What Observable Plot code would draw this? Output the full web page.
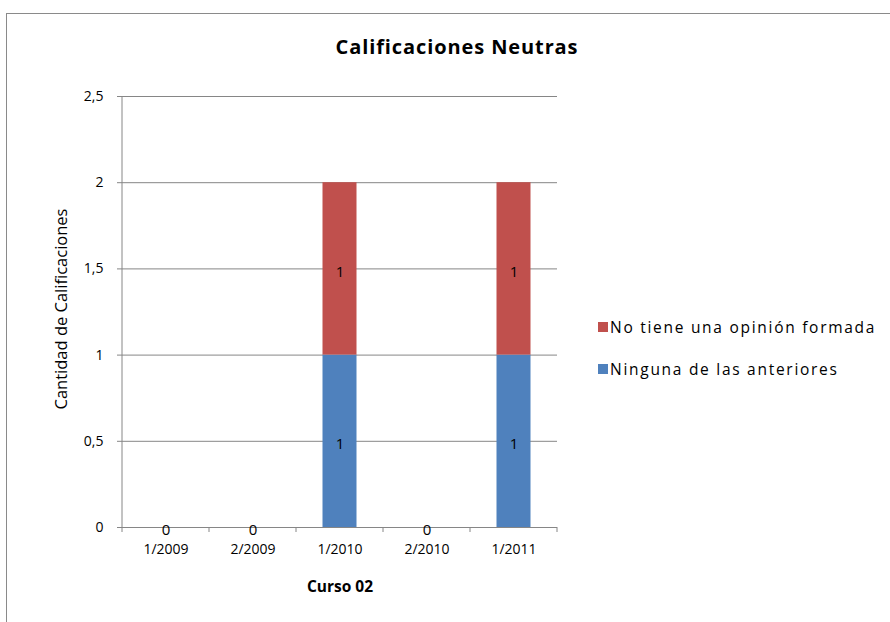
<!DOCTYPE html>
<html><head><meta charset="utf-8">
<script src="https://cdn.jsdelivr.net/npm/d3@7"></script>
<script src="https://cdn.jsdelivr.net/npm/@observablehq/plot@0.6"></script>
<style>
body{margin:0;background:#fff;font-family:"Open Sans",sans-serif;}
#wrap{position:relative;width:890px;height:622px;overflow:hidden;background:#fff;}
#frame{position:absolute;left:6px;top:13px;width:1000px;height:1000px;border:1px solid #8a8a8a;box-sizing:border-box;}
#chart{position:absolute;left:0;top:0;}
#title{position:absolute;top:33px;left:0;width:914px;text-align:center;font-weight:bold;font-size:20px;letter-spacing:0.9px;color:#000;line-height:28px;}
.leg{position:absolute;left:598px;font-size:15.5px;letter-spacing:1.72px;color:#000;white-space:nowrap;display:flex;align-items:center;line-height:20px;}
.sw{display:inline-block;width:10px;height:10px;margin-right:2px;}
</style></head>
<body>
<div id="wrap">
<div id="frame"></div>
<div id="chart"></div>
<div id="title"></div>
<div id="legend"></div>
</div>
<script>
const titleText = "Calificaciones Neutras";
const xLabel = "Curso 02";
const yLabel = "Cantidad de Calificaciones";
const categories = ["1/2009","2/2009","1/2010","2/2010","1/2011"];
const series = ["Ninguna de las anteriores","No tiene una opinión formada"];
const ninguna = [0,0,1,0,1];
const noTiene = [0,0,1,0,1];
const colors = ["#4F81BD","#C0504D"];
const yTicks = [0,0.5,1,1.5,2,2.5];
const yTickLabels = ["0","0,5","1","1,5","2","2,5"];

const data = categories.flatMap((c,i)=>[
  {cat:c, serie:series[0], value:ninguna[i]},
  {cat:c, serie:series[1], value:noTiene[i]}
]);

const grey = "#868686";

function axisLines(index, scales, values, dims) {
  const x = scales.x, y = scales.y;
  const g = d3.create("svg:g").attr("stroke", grey).attr("stroke-width", 1);
  const y0 = y(0), yTop = y(yTicks[yTicks.length-1]);
  const bounds = categories.map(c => x(c)).concat([dims.width - dims.marginRight]);
  for (const b of bounds) {
    g.append("line").attr("x1", b).attr("x2", b).attr("y1", y0).attr("y2", y0 + 5);
  }
  g.append("line").attr("x1", dims.marginLeft).attr("x2", dims.marginLeft).attr("y1", yTop).attr("y2", y0);
  return g.node();
}

const plot = Plot.plot({
  width: 890, height: 622,
  marginLeft: 122, marginRight: 333, marginTop: 96, marginBottom: 95,
  style: {fontFamily: "Open Sans", fontSize: "13px", color: "#000", background: "transparent", overflow: "visible"},
  x: {domain: categories, padding: 0, label: null},
  y: {domain: [0, 2.5], label: null},
  color: {domain: series, range: colors},
  marks: [
    Plot.gridY(yTicks, {stroke: grey, strokeOpacity: 1}),
    Plot.barY(data, {x: "cat", y: "value", fill: "serie", insetLeft: 26.5, insetRight: 26.5}),
    Plot.ruleY([0], {stroke: grey}),
    axisLines,
    Plot.axisY(yTicks, {tickSize: 5, tickPadding: 14, stroke: grey, tickFormat: d => yTickLabels[yTicks.indexOf(d)], label: null, fontSize: 14}),
    Plot.axisX({tickSize: 0, tickPadding: 17, label: null, fontSize: 14, letterSpacing: 0.5}),
    Plot.text(data, Plot.stackY({x: "cat", y: "value", z: "serie", text: d => String(d.value), filter: d => d.value > 0 || d.serie === series[0], fill: "#000", fontSize: 15, dy: 3})),
    Plot.text([xLabel], {frameAnchor: "bottom", dy: 64, fontWeight: "bold", fontSize: 15.5, letterSpacing: 0.7, fill: "#000"}),
    Plot.text([yLabel], {frameAnchor: "left", textAnchor: "middle", dx: -61, dy: -3, rotate: -90, fontSize: 16.5, letterSpacing: 1.5, fill: "#000"})
  ]
});
document.getElementById("chart").appendChild(plot);
document.getElementById("title").textContent = titleText;

const legendItems = [
  {name: series[1], color: colors[1], top: 317},
  {name: series[0], color: colors[0], top: 359}
];
const leg = document.getElementById("legend");
for (const it of legendItems) {
  const d = document.createElement("div");
  d.className = "leg";
  d.style.top = it.top + "px";
  const s = document.createElement("span");
  s.className = "sw";
  s.style.background = it.color;
  d.appendChild(s);
  d.appendChild(document.createTextNode(it.name));
  leg.appendChild(d);
}
</script>
</body></html>
